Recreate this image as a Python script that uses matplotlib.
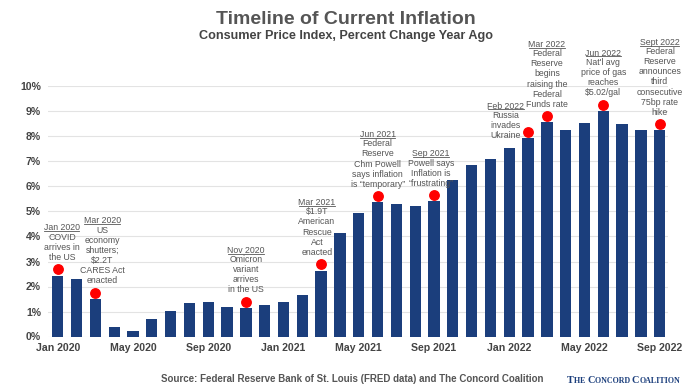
import matplotlib
matplotlib.use("Agg")
import matplotlib.pyplot as plt
import matplotlib.transforms as mtransforms
from matplotlib.lines import Line2D

plt.rcParams['font.family'] = ['Liberation Sans', 'DejaVu Sans']

# CPI, percent change from year ago, Jan 2020 .. Sep 2022
months = ['Jan 2020', 'Feb 2020', 'Mar 2020', 'Apr 2020', 'May 2020', 'Jun 2020',
          'Jul 2020', 'Aug 2020', 'Sep 2020', 'Oct 2020', 'Nov 2020', 'Dec 2020',
          'Jan 2021', 'Feb 2021', 'Mar 2021', 'Apr 2021', 'May 2021', 'Jun 2021',
          'Jul 2021', 'Aug 2021', 'Sep 2021', 'Oct 2021', 'Nov 2021', 'Dec 2021',
          'Jan 2022', 'Feb 2022', 'Mar 2022', 'Apr 2022', 'May 2022', 'Jun 2022',
          'Jul 2022', 'Aug 2022', 'Sep 2022']
cpi = [2.44, 2.31, 1.51, 0.37, 0.24, 0.72, 1.04, 1.33, 1.40, 1.17, 1.13, 1.27,
       1.37, 1.67, 2.64, 4.13, 4.95, 5.36, 5.30, 5.23, 5.40, 6.24, 6.84, 7.11,
       7.55, 7.94, 8.56, 8.24, 8.52, 9.02, 8.50, 8.27, 8.24]
tick_months = ['Jan 2020', 'May 2020', 'Sep 2020', 'Jan 2021', 'May 2021',
               'Sep 2021', 'Jan 2022', 'May 2022', 'Sep 2022']

# events marked with a red dot
event_months = ['Jan 2020', 'Mar 2020', 'Nov 2020', 'Mar 2021', 'Jun 2021',
                'Sep 2021', 'Feb 2022', 'Mar 2022', 'Jun 2022', 'Sep 2022']
event_dates = ['Jan 2020', 'Mar 2020', 'Nov 2020', 'Mar 2021', 'Jun 2021',
               'Sep 2021', 'Feb 2022', 'Mar 2022', 'Jun 2022', 'Sept 2022']
event_texts = [
    'COVID\narrives in\nthe US',
    'US\neconomy\nshutters;\n$2.2T\nCARES Act\nenacted',
    'Omicron\nvariant\narrives\nin the US',
    '$1.9T\nAmerican\nRescue\nAct\nenacted',
    'Federal\nReserve\nChm Powell\nsays inflation\nis \u201ctemporary\u201d',
    'Powell says\nInflation is\n\u201cfrustrating\u201d',
    'Russia\ninvades\nUkraine',
    'Federal\nReserve\nbegins\nraising the\nFederal\nFunds rate',
    "Nat'l avg\nprice of gas\nreaches\n$5.02/gal",
    'Federal\nReserve\nannounces\nthird\nconsecutive\n75bp rate\nhike',
]

navy = '#1b3e7c'
grey = '#555555'

fig = plt.figure(figsize=(6.92, 3.9), dpi=100)
ax = fig.add_axes([48 / 692, 53.5 / 390, 620 / 692, 250 / 390])

x = list(range(len(months)))
ax.bar(x, cpi, width=0.6, color=navy, zorder=3)

ax.set_ylim(0, 10)
ax.set_xlim(-0.52, 32.44)
ax.set_yticks(range(0, 11))
ax.set_yticklabels([f'{v}%' for v in range(0, 11)])
ax.set_xticks([months.index(m) for m in tick_months])
ax.set_xticklabels(tick_months)
ax.tick_params(length=0, labelsize=7.6, labelcolor='#444444')
ax.tick_params(axis='y', pad=5)
ax.tick_params(axis='x', pad=5)
for lab in ax.get_xticklabels() + ax.get_yticklabels():
    lab.set_fontweight('bold')
ax.grid(axis='y', color='#e3e3e3', lw=0.8, zorder=0)
for s in ax.spines.values():
    s.set_visible(False)

# red dots, a little above each bar
dot_tr = mtransforms.offset_copy(ax.transData, fig=fig, y=4.5, units='points')
ev_x = [months.index(m) for m in event_months]
ev_y = [cpi[i] for i in ev_x]
ax.plot(ev_x, ev_y, 'o', color='#ff0000', ms=6.8, transform=dot_tr, zorder=4,
        clip_on=False)

# small horizontal nudges (points) so labels sit like the original
nudge = [3, 5, 0, -3, 0, -2, 0, 0, 0, 0]
date_artists = []
for i, (m, d, t) in enumerate(zip(event_months, event_dates, event_texts)):
    xi = months.index(m)
    if m == 'Feb 2022':
        off = (-16, -6)
    else:
        off = (nudge[i], 5.5)
    body = ax.annotate(t, xy=(xi, cpi[xi]), xycoords=dot_tr,
                       xytext=off, textcoords='offset points',
                       ha='center', va='bottom', fontsize=6.3,
                       color=grey, linespacing=1.15)
    dt = ax.annotate(d, xy=(0.5, 1), xycoords=body, xytext=(0, 0.3),
                     textcoords='offset points', ha='center', va='bottom',
                     fontsize=6.3, color=grey)
    date_artists.append(dt)

fig.text(0.5, 1 - 19 / 390, 'Timeline of Current Inflation', ha='center',
         va='center', fontsize=14, fontweight='bold', color=grey)
fig.text(0.5, 1 - 36.5 / 390, 'Consumer Price Index, Percent Change Year Ago',
         ha='center', va='center', fontsize=9.1, fontweight='bold',
         color='#444444')

fig.text(352 / 692, 1 - 379 / 390,
         'Source: Federal Reserve Bank of St. Louis (FRED data) and The Concord Coalition',
         ha='center', va='center', fontsize=7.0, fontweight='bold', color=grey)

fig.canvas.draw()
renderer = fig.canvas.get_renderer()
inv = fig.transFigure.inverted()

# small caps logo text, pieces on one baseline
pieces = [('T', 7.4), ('HE ', 5.8), ('C', 7.4), ('ONCORD ', 5.8),
          ('C', 7.4), ('OALITION', 5.8)]
lx = 567 / 692
ly = 1 - 383 / 390
for txt, sz in pieces:
    t = fig.text(lx, ly, txt, ha='left', va='baseline', fontsize=sz,
                 family='Liberation Serif', fontweight='bold', color=navy)
    bb = t.get_window_extent(renderer)
    lx = inv.transform((bb.x1, bb.y0))[0]

# underline the event dates
for dt in date_artists:
    bb = dt.get_window_extent(renderer)
    (x0, y0), (x1, _) = inv.transform([(bb.x0 + 0.5, bb.y0 + 1.2), (bb.x1 - 0.5, bb.y0)])
    fig.add_artist(Line2D([x0, x1], [y0, y0], transform=fig.transFigure,
                          color=grey, lw=0.6))

fig.savefig('out.png', dpi=100)
